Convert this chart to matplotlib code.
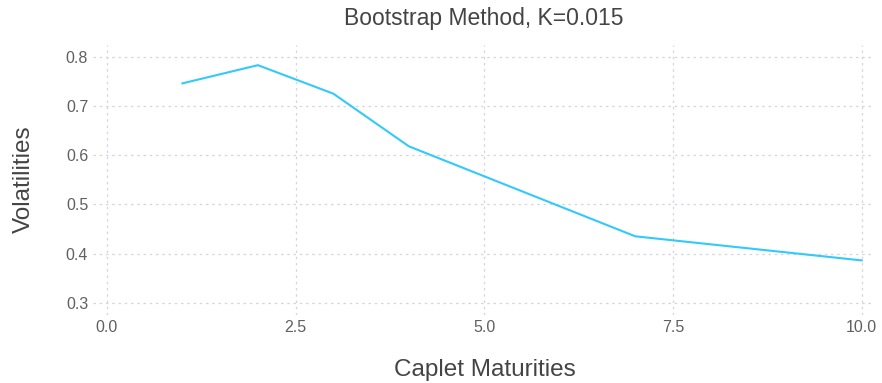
import matplotlib
matplotlib.use("Agg")
import matplotlib.pyplot as plt

maturities = [1, 2, 3, 4, 5, 7, 10]
volatilities = [0.746, 0.783, 0.725, 0.618, 0.557, 0.435, 0.386]
xticks = [0.0, 2.5, 5.0, 7.5, 10.0]
xtick_labels = ["0.0", "2.5", "5.0", "7.5", "10.0"]
yticks = [0.3, 0.4, 0.5, 0.6, 0.7, 0.8]
ytick_labels = ["0.3", "0.4", "0.5", "0.6", "0.7", "0.8"]

plt.rcParams['font.family'] = ['Liberation Sans', 'DejaVu Sans']
fig = plt.figure(figsize=(8.82, 3.83), dpi=100)
ax = fig.add_axes([93 / 882, 1 - 315 / 383, 780 / 882, 270 / 383])
ax.plot(maturities, volatilities, color='#33c9fb', lw=1.5)
ax.set_xlim(-0.185, 10.15)
ax.set_ylim(0.275, 0.824)
ax.set_xticks(xticks)
ax.set_xticklabels(xtick_labels)
ax.set_yticks(yticks)
ax.set_yticklabels(ytick_labels)
for s in ax.spines.values():
    s.set_visible(False)
ax.tick_params(length=0, colors='#606060', labelsize=11.5, pad=3.5)
ax.grid(True, color='#d4d4e4', linestyle=(0, (2, 3)), lw=0.9)
ax.set_axisbelow(True)
fig.text(484 / 882, 1 - 18 / 383, "Bootstrap Method, K=0.015", fontsize=16.5, color='#444444',
         ha='center', va='center')
fig.text(485 / 882, 1 - 370 / 383, "Caplet Maturities", fontsize=17.5, color='#444444',
         ha='center', va='center')
fig.text(24 / 882, 1 - 179 / 383, "Volatilities", fontsize=17.5, color='#444444',
         ha='center', va='center', rotation=90)
fig.savefig("out.png", dpi=100)
